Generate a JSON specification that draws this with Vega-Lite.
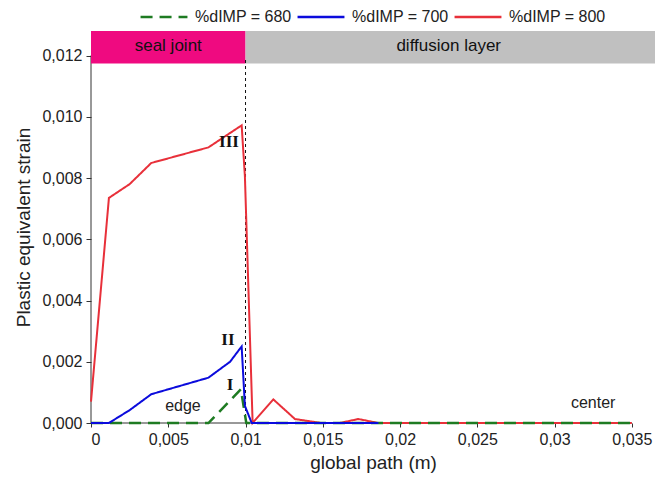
{
  "$schema": "https://vega.github.io/schema/vega-lite/v6.json",
  "width": 564,
  "height": 392,
  "autosize": {"type": "none"},
  "padding": {"left": 91, "top": 31, "right": 13, "bottom": 55},
  "background": "white",
  "config": {"view": {"stroke": null}, "font": "Liberation Sans"},
  "datasets": {
    "lines": [
      {"series": "%dIMP = 680", "x": 0, "y": 0},
      {"series": "%dIMP = 680", "x": 0.0076, "y": 0},
      {"series": "%dIMP = 680", "x": 0.0097, "y": 0.0011},
      {"series": "%dIMP = 680", "x": 0.01005, "y": 0},
      {"series": "%dIMP = 680", "x": 0.035, "y": 0},
      {"series": "%dIMP = 700", "x": 0, "y": 0},
      {"series": "%dIMP = 700", "x": 0.00116, "y": 0},
      {"series": "%dIMP = 700", "x": 0.0025, "y": 0.00042},
      {"series": "%dIMP = 700", "x": 0.0039, "y": 0.00094},
      {"series": "%dIMP = 700", "x": 0.0076, "y": 0.00148},
      {"series": "%dIMP = 700", "x": 0.009, "y": 0.002},
      {"series": "%dIMP = 700", "x": 0.00975, "y": 0.0025},
      {"series": "%dIMP = 700", "x": 0.00996, "y": 0.00056},
      {"series": "%dIMP = 700", "x": 0.0104, "y": 0},
      {"series": "%dIMP = 700", "x": 0.0186, "y": 0},
      {"series": "%dIMP = 800", "x": 0, "y": 0.0007},
      {"series": "%dIMP = 800", "x": 0.00116, "y": 0.00735},
      {"series": "%dIMP = 800", "x": 0.0025, "y": 0.0078},
      {"series": "%dIMP = 800", "x": 0.0039, "y": 0.00849},
      {"series": "%dIMP = 800", "x": 0.0076, "y": 0.009},
      {"series": "%dIMP = 800", "x": 0.00975, "y": 0.00972},
      {"series": "%dIMP = 800", "x": 0.00996, "y": 0.00805},
      {"series": "%dIMP = 800", "x": 0.01046, "y": 0},
      {"series": "%dIMP = 800", "x": 0.0118, "y": 0.00077},
      {"series": "%dIMP = 800", "x": 0.0132, "y": 0.00013},
      {"series": "%dIMP = 800", "x": 0.0149, "y": 0},
      {"series": "%dIMP = 800", "x": 0.0161, "y": 0},
      {"series": "%dIMP = 800", "x": 0.0173, "y": 0.00013},
      {"series": "%dIMP = 800", "x": 0.0186, "y": 0},
      {"series": "%dIMP = 800", "x": 0.035, "y": 0}
    ],
    "bands": [
      {"label": "seal joint", "x0": 0, "x1": 0.01, "y0": 0.01174, "y1": 0.0128, "xm": 0.005, "ym": 0.0123},
      {"label": "diffusion layer", "x0": 0.01, "x1": 0.0365, "y0": 0.01174, "y1": 0.0128, "xm": 0.02315, "ym": 0.0123}
    ],
    "numerals": [
      {"text": "III", "x": 0.00893, "y": 0.00916},
      {"text": "II", "x": 0.00886, "y": 0.00271},
      {"text": "I", "x": 0.009, "y": 0.00124}
    ],
    "notes": [
      {"text": "edge", "x": 0.00595, "y": 0.00056},
      {"text": "center", "x": 0.0325, "y": 0.00065}
    ],
    "axislines": [
      {"axis": "y", "x": 0, "x2": 0, "y": 0, "y2": 0.012},
      {"axis": "x", "x": 0, "x2": 0.035, "y": 0, "y2": 0}
    ],
    "divider": [
      {"x": 0.01, "y": 0, "y2": 0.01195}
    ]
  },
  "layer": [
    {
      "data": {"name": "axislines"},
      "mark": {"type": "rule", "color": "#333333", "strokeWidth": 1},
      "encoding": {
        "x": {
          "field": "x", "type": "quantitative",
          "scale": {"domain": [0, 0.0365], "nice": false, "zero": false},
          "axis": {
            "title": "global path (m)",
            "domain": false,
            "values": [0, 0.005, 0.01, 0.015, 0.02, 0.025, 0.03, 0.035],
            "labelExpr": "replace(format(datum.value, '.3~f'), '.', ',')",
            "grid": false,
            "tickSize": 4, "tickColor": "#333333",
            "labelFont": "Liberation Sans", "labelFontSize": 16, "labelColor": "#222222", "labelPadding": 4,
            "titleFont": "Liberation Sans", "titleFontSize": 19, "titleFontWeight": "normal", "titleColor": "#222222", "titlePadding": 6
          }
        },
        "x2": {"field": "x2"},
        "y": {
          "field": "y", "type": "quantitative",
          "scale": {"domain": [0, 0.0128], "nice": false, "zero": false},
          "axis": {
            "title": "Plastic equivalent strain",
            "domain": false,
            "values": [0, 0.002, 0.004, 0.006, 0.008, 0.01, 0.012],
            "labelExpr": "replace(format(datum.value, '.3f'), '.', ',')",
            "grid": false,
            "tickSize": 5, "tickColor": "#333333",
            "labelFont": "Liberation Sans", "labelFontSize": 16, "labelColor": "#222222", "labelPadding": 4,
            "titleFont": "Liberation Sans", "titleFontSize": 19, "titleFontWeight": "normal", "titleColor": "#222222", "titlePadding": 8
          }
        },
        "y2": {"field": "y2"}
      }
    },
    {
      "data": {"name": "bands"},
      "mark": {"type": "rect"},
      "encoding": {
        "x": {"field": "x0", "type": "quantitative"},
        "x2": {"field": "x1"},
        "y": {"field": "y0", "type": "quantitative"},
        "y2": {"field": "y1"},
        "fill": {"field": "label", "type": "nominal", "scale": {"domain": ["seal joint", "diffusion layer"], "range": ["#EF0A80", "#C0C0C0"]}, "legend": null}
      }
    },
    {
      "data": {"name": "divider"},
      "mark": {"type": "rule", "color": "#111111", "strokeWidth": 1, "strokeDash": [3, 3]},
      "encoding": {
        "x": {"field": "x", "type": "quantitative"},
        "y": {"field": "y", "type": "quantitative"},
        "y2": {"field": "y2"}
      }
    },
    {
      "data": {"name": "bands"},
      "mark": {"type": "text", "font": "Liberation Sans", "fontSize": 17, "color": "#111111", "baseline": "middle", "align": "center"},
      "encoding": {
        "x": {"field": "xm", "type": "quantitative"},
        "y": {"field": "ym", "type": "quantitative"},
        "text": {"field": "label"}
      }
    },
    {
      "data": {"name": "lines"},
      "transform": [{"filter": "datum.series === '%dIMP = 800'"}],
      "mark": {"type": "line", "strokeWidth": 2},
      "encoding": {
        "x": {"field": "x", "type": "quantitative"},
        "y": {"field": "y", "type": "quantitative"},
        "color": {"field": "series", "type": "nominal", "title": null,
          "scale": {"domain": ["%dIMP = 680", "%dIMP = 700", "%dIMP = 800"], "range": ["#1E7B22", "#0B0BDC", "#E8303A"]},
          "legend": {"orient": "none", "legendX": 48, "legendY": -39, "direction": "horizontal", "symbolType": "stroke", "symbolSize": 2200, "symbolStrokeWidth": 2.5, "labelFont": "Liberation Sans", "labelFontSize": 16, "labelColor": "#222222", "columnPadding": 0, "labelOffset": 6}},
        "strokeDash": {"field": "series", "type": "nominal", "title": null,
          "scale": {"domain": ["%dIMP = 680", "%dIMP = 700", "%dIMP = 800"], "range": [[12, 7], [1, 0], [1, 0]]},
          "legend": {"orient": "none", "legendX": 48, "legendY": -39, "direction": "horizontal", "symbolType": "stroke", "symbolSize": 2200, "symbolStrokeWidth": 2.5, "labelFont": "Liberation Sans", "labelFontSize": 16, "labelColor": "#222222", "columnPadding": 0, "labelOffset": 6}}
      }
    },
    {
      "data": {"name": "lines"},
      "transform": [{"filter": "datum.series === '%dIMP = 680'"}],
      "mark": {"type": "line", "strokeWidth": 2.5},
      "encoding": {
        "x": {"field": "x", "type": "quantitative"},
        "y": {"field": "y", "type": "quantitative"},
        "color": {"field": "series", "type": "nominal", "title": null},
        "strokeDash": {"field": "series", "type": "nominal", "title": null}
      }
    },
    {
      "data": {"name": "lines"},
      "transform": [{"filter": "datum.series === '%dIMP = 700'"}],
      "mark": {"type": "line", "strokeWidth": 2},
      "encoding": {
        "x": {"field": "x", "type": "quantitative"},
        "y": {"field": "y", "type": "quantitative"},
        "color": {"field": "series", "type": "nominal", "title": null},
        "strokeDash": {"field": "series", "type": "nominal", "title": null}
      }
    },
    {
      "data": {"name": "numerals"},
      "mark": {"type": "text", "font": "Liberation Serif", "fontWeight": "bold", "fontSize": 17, "color": "#111111", "align": "center", "baseline": "middle"},
      "encoding": {
        "x": {"field": "x", "type": "quantitative"},
        "y": {"field": "y", "type": "quantitative"},
        "text": {"field": "text"}
      }
    },
    {
      "data": {"name": "notes"},
      "mark": {"type": "text", "font": "Liberation Sans", "fontSize": 16, "color": "#222222", "align": "center", "baseline": "middle"},
      "encoding": {
        "x": {"field": "x", "type": "quantitative"},
        "y": {"field": "y", "type": "quantitative"},
        "text": {"field": "text"}
      }
    }
  ]
}
